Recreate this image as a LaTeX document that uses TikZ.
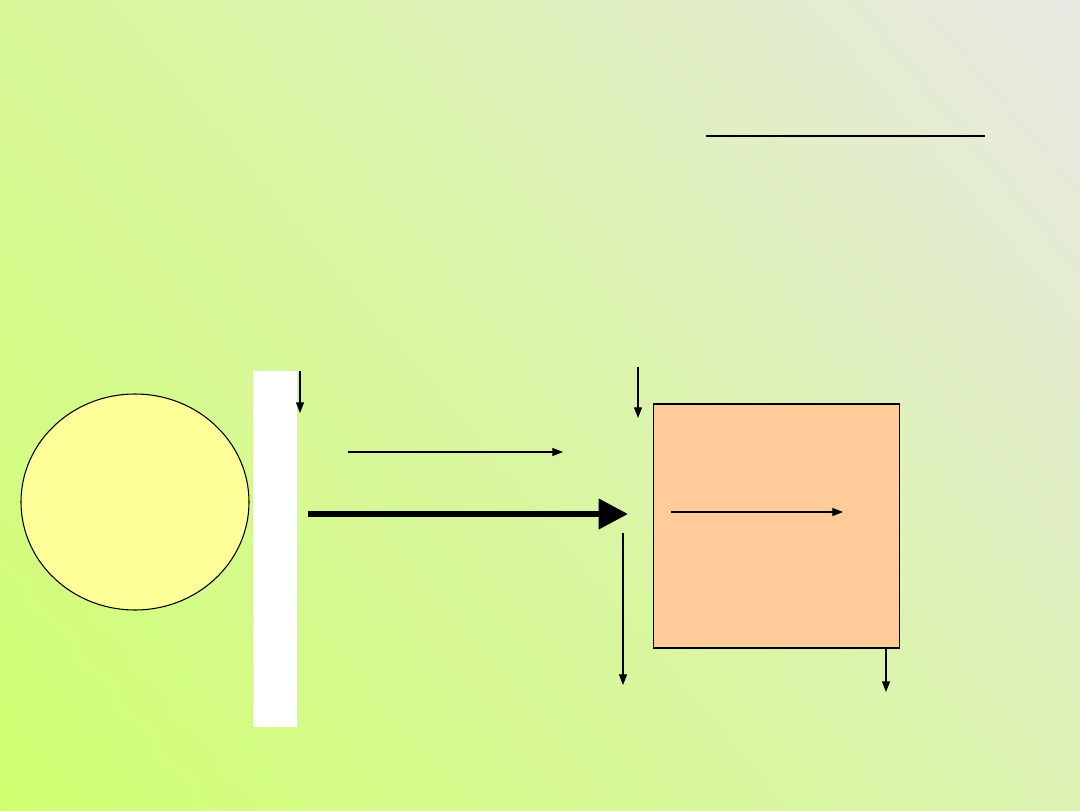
\documentclass[tikz,border=0pt]{standalone}
\usetikzlibrary{arrows.meta,shapes.geometric}
\begin{document}
\begin{tikzpicture}[x=0.75pt,y=-0.75pt,
  thin arrow/.style={draw=black,line width=0.8pt,-{Triangle[length=8pt,width=6pt]}},
  outline/.style={draw=black,line width=0.8pt}]
\useasboundingbox (0,0) rectangle (1080,810);
\begin{scope}
\clip (0,0) rectangle (1080,810);
\shade[shading=axis,top color={rgb,255:red,232;green,232;blue,228},bottom color={rgb,255:red,208;green,255;blue,112},middle color={rgb,255:red,218;green,245;blue,165},shading angle=-50] (-200,-200) rectangle (1280,1010);
\end{scope}
\coordinate (ua) at (706,136); \coordinate (ub) at (985,136);
\draw[line width=1.5pt] (ua) -- (ub);
\node[outline,ellipse,fill={rgb,255:red,255;green,255;blue,153},minimum width=171pt,minimum height=162pt,inner sep=0] (sun) at (135,502) {};
\node[fill=white,minimum width=33pt,minimum height=267pt,inner sep=0] (wall) at (275,549) {};
\node[outline,fill={rgb,255:red,255;green,204;blue,153},minimum width=185pt,minimum height=183pt,inner sep=0] (box) at (776.5,526) {};
\coordinate (a1) at (300,371); \coordinate (a2) at (300,413);
\draw[thin arrow] (a1) -- (a2);
\coordinate (b1) at (348,452); \coordinate (b2) at (563,452);
\draw[thin arrow] (b1) -- (b2);
\coordinate (c1) at (308,514); \coordinate (c2) at (628,514);
\draw[line width=4.5pt,-{Triangle[length=22pt,width=22pt]}] (c1) -- (c2);
\coordinate (d1) at (638,367); \coordinate (d2) at (638,418);
\draw[thin arrow] (d1) -- (d2);
\coordinate (e1) at (671,512); \coordinate (e2) at (843,512);
\draw[thin arrow] (e1) -- (e2);
\coordinate (f1) at (623,533); \coordinate (f2) at (623,685);
\draw[thin arrow] (f1) -- (f2);
\coordinate (g1) at (886,648); \coordinate (g2) at (886,692);
\draw[thin arrow] (g1) -- (g2);
\end{tikzpicture}
\end{document}
